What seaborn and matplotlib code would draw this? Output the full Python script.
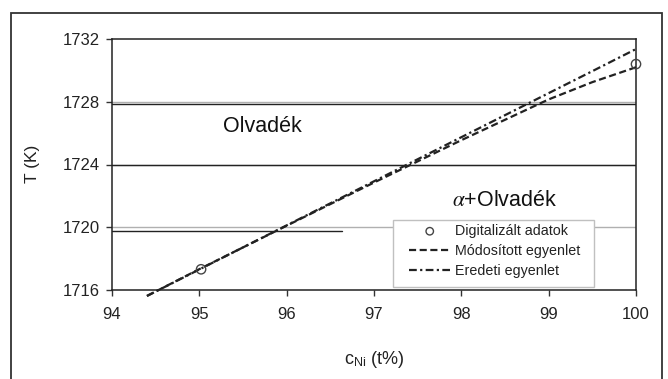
import numpy as np
import pandas as pd
import matplotlib
matplotlib.use("Agg")
import matplotlib.pyplot as plt
from matplotlib.patches import Rectangle
import seaborn as sns

# ---- data ----
x_line = [94.4, 95.0, 96.0, 97.0, 98.0, 99.0, 99.5, 100.0]
t_modositott = [1715.62, 1717.33, 1720.10, 1722.85, 1725.55, 1728.15, 1729.25, 1730.20]
t_eredeti = [1715.62, 1717.31, 1720.12, 1722.93, 1725.74, 1728.55, 1729.95, 1731.36]
x_data = [95.02, 100.0]
t_data = [1717.32, 1730.40]

x_ticks = [94, 95, 96, 97, 98, 99, 100]
y_ticks = [1716, 1720, 1724, 1728, 1732]
boundary_levels = [1727.85, 1723.95, 1719.75]
boundary_ends = [100.0, 100.0, 96.63]

sns.set_style("white")
plt.rcParams["font.family"] = ["Liberation Sans", "DejaVu Sans"]
plt.rcParams["mathtext.fontset"] = "stix"

W, H = 668, 379
fig = plt.figure(figsize=(W / 100, H / 100), dpi=100)
L, R, T, B = 112, 636, 39, 290
ax = fig.add_axes([L / W, 1 - B / H, (R - L) / W, (B - T) / H])

def ax_frac(px, py):
    return (px - L) / (R - L), (B - py) / (B - T)

# outer frame
fig.patches.append(Rectangle((11 / W, -0.05), (662 - 11) / W, 1 - 13 / H + 0.05,
                             transform=fig.transFigure, fill=False,
                             edgecolor="#333333", linewidth=1.3, zorder=0))

# grid (gray) and boundary lines (dark)
for yv in y_ticks[1:-1]:
    ax.axhline(yv, color="#b0b0b0", linewidth=1.0, zorder=1)
for yv, xe in zip(boundary_levels, boundary_ends):
    ax.plot([94, xe], [yv, yv], color="#222222", linewidth=1.0, zorder=1)

df_lines = pd.DataFrame({
    "x": x_line * 2,
    "T": t_modositott + t_eredeti,
    "series": ["Módosított egyenlet"] * len(x_line) + ["Eredeti egyenlet"] * len(x_line),
})
df_data = pd.DataFrame({"x": x_data, "T": t_data})

sns.scatterplot(data=df_data, x="x", y="T", ax=ax, marker="o", s=45,
                facecolor="none", edgecolor="#444444", linewidth=1.0,
                label="Digitalizált adatok", zorder=4, clip_on=False)
sns.lineplot(data=df_lines[df_lines.series == "Módosított egyenlet"], x="x", y="T", ax=ax,
             color="#222222", linewidth=1.6, linestyle=(0, (3.2, 1.6)),
             label="Módosított egyenlet", zorder=3, clip_on=False)
sns.lineplot(data=df_lines[df_lines.series == "Eredeti egyenlet"], x="x", y="T", ax=ax,
             color="#222222", linewidth=1.6, linestyle=(0, (3.5, 1.5, 1, 1.5)),
             label="Eredeti egyenlet", zorder=3, clip_on=False)

ax.set_xlim(94, 100)
ax.set_ylim(1716, 1732)
ax.set_xticks(x_ticks)
ax.set_yticks(y_ticks)
ax.tick_params(axis="both", direction="out", length=4, width=1, color="#333333",
               labelsize=12, labelcolor="#222222", left=True, bottom=True)
ax.tick_params(axis="x", pad=8)
ax.tick_params(axis="y", pad=5)
for s in ax.spines.values():
    s.set_color("#222222")
    s.set_linewidth(1.1)

ax.set_xlabel(r"c$_{\mathregular{Ni}}$ (t%)", fontsize=13, color="#222222")
ax.set_ylabel("T (K)", fontsize=12.5, color="#222222")
ax.xaxis.set_label_coords(*ax_frac(374, 360))
ax.yaxis.set_label_coords(*ax_frac(33, 164))
ax.xaxis.label.set_va("center")
ax.yaxis.label.set_va("center")

ax.text(95.72, 1726.4, "Olvadék", fontsize=15.5, ha="center", va="center", color="#111111")
ax.text(98.5, 1721.7, r"$\alpha$+Olvadék", fontsize=15.5, ha="center", va="center", color="#111111")

# legend box (frame drawn separately for exact placement)
x0, y0 = ax_frac(393, 287)
x1, y1 = ax_frac(594, 220)
ax.add_patch(Rectangle((x0, y0), x1 - x0, y1 - y0, transform=ax.transAxes,
                       facecolor="white", edgecolor="#c0c0c0", linewidth=1.0, zorder=5))
leg = ax.legend(loc="upper left", bbox_to_anchor=ax_frac(409, 224),
                fontsize=10.3, frameon=False, handlelength=2.9, handletextpad=0.35,
                labelspacing=0.42, borderpad=0, borderaxespad=0, markerscale=0.8)
leg.set_zorder(6)
for t in leg.get_texts():
    t.set_color("#222222")

fig.savefig("out.png", dpi=100)
